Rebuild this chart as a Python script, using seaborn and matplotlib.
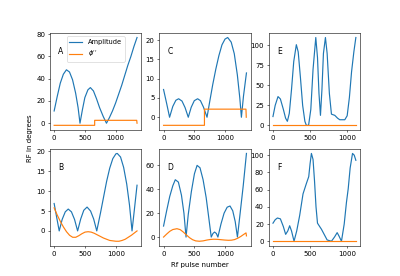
import matplotlib
matplotlib.use("Agg")
import matplotlib.pyplot as plt
import seaborn as sns

# Panel A
a_amp_x = [0, 50, 100, 150, 200, 250, 300, 350, 390, 421, 460, 500, 550, 590, 640, 690, 740, 800, 852, 900, 950, 1000, 1050, 1100, 1150, 1200, 1250, 1300, 1350]
a_amp_y = [11, 24, 36, 44, 48, 46, 39, 27, 14, 0, 12, 23, 30, 32, 29, 22, 14, 6, 0, 5, 11, 18, 26, 34, 43, 52, 60, 69, 77]
a_ph_x = [0, 660, 660, 1345, 1350]
a_ph_y = [-1.9, -1.9, 2.6, 2.6, 0]

# Panel B
b_amp_x = [0, 40, 82, 130, 180, 228, 280, 330, 380, 430, 480, 533, 590, 640, 690, 750, 800, 850, 900, 950, 1000, 1022, 1075, 1125, 1175, 1220, 1261, 1300, 1342]
b_amp_y = [6.9, 3.5, 0, 2.9, 4.8, 5.5, 4.8, 2.9, 0, 3.0, 5.2, 6.0, 5.0, 3.0, 0, 4.5, 8.5, 12.5, 15.8, 18.2, 19.4, 19.5, 18.6, 16.0, 11.8, 6.5, 0, 5.5, 11.5]
b_ph_x = [0, 50, 100, 150, 200, 250, 300, 350, 400, 450, 500, 550, 600, 650, 700, 750, 800, 850, 900, 950, 1000, 1050, 1100, 1150, 1200, 1250, 1300, 1342]
b_ph_y = [5.8, 4.0, 2.4, 1.0, -0.2, -1.1, -1.6, -1.6, -1.2, -0.7, -0.3, -0.2, -0.3, -0.6, -1.0, -1.4, -1.8, -2.1, -2.4, -2.5, -2.6, -2.6, -2.4, -2.1, -1.6, -1.1, -0.5, 0.0]

# Panel C
c_amp_x = [0, 50, 98, 150, 200, 245, 300, 350, 402, 450, 500, 554, 600, 650, 707, 750, 800, 850, 900, 950, 1000, 1043, 1100, 1150, 1200, 1240, 1266, 1300, 1348]
c_amp_y = [7.2, 3.6, 0, 2.8, 4.4, 4.8, 4.2, 2.5, 0, 2.6, 4.3, 4.8, 4.3, 2.6, 0, 4.0, 8.5, 12.5, 16.0, 18.8, 20.3, 20.7, 19.5, 16.5, 11.0, 5.0, 0, 5.5, 11.5]
c_ph_x = [0, 665, 665, 1340, 1345]
c_ph_y = [-2.1, -2.1, 2.1, 2.1, 0]

# Panel D
d_amp_x = [0, 50, 100, 150, 190, 240, 290, 330, 364, 400, 450, 500, 543, 590, 640, 690, 730, 772, 800, 826, 855, 880, 930, 980, 1030, 1076, 1120, 1160, 1196, 1240, 1290, 1342]
d_amp_y = [9.2, 22, 34, 43, 48, 46, 35, 20, 0, 19, 38, 53, 60, 58, 48, 33, 17, 0, 3, 4.2, 3, 0, 11, 20, 25, 26, 22, 13, 0, 20, 43, 70]
d_ph_x = [0, 50, 100, 150, 217, 270, 320, 370, 420, 470, 520, 580, 640, 700, 760, 815, 870, 930, 990, 1050, 1100, 1150, 1200, 1250, 1300, 1335, 1342]
d_ph_y = [0, 2.5, 4.8, 6.3, 7.0, 6.2, 4.2, 1.8, -0.5, -2.2, -3.2, -3.5, -3.2, -2.5, -2.0, -1.8, -1.9, -2.2, -2.5, -2.7, -2.6, -2.1, -1.0, 0.5, 2.3, 3.5, 1.0]

# Panel E
e_amp_x = [0, 30, 68, 100, 140, 170, 194, 220, 250, 280, 315, 340, 370, 400, 430, 450, 480, 510, 540, 577, 600, 620, 640, 660, 680, 707, 730, 760, 788, 833, 870, 900, 968, 1000, 1030, 1059, 1090, 1117]
e_amp_y = [11, 25, 36, 33, 20, 9, 5, 15, 45, 80, 101, 92, 60, 25, 5, 0, 0, 20, 70, 110, 85, 40, 12.5, 45, 90, 110, 90, 40, 14, 12.5, 9, 7, 7, 12, 35, 67, 92, 110]
e_ph_x = [0, 1117]
e_ph_y = [0, 0]

# Panel F
f_amp_x = [0, 30, 60, 100, 140, 171, 200, 225, 250, 284, 320, 360, 405, 450, 482, 500, 518, 540, 560, 580, 600, 630, 653, 690, 730, 788, 830, 865, 890, 923, 960, 990, 1014, 1040, 1072, 1095, 1117]
f_amp_y = [21, 25, 27, 26, 17, 8, 12, 18, 12, 0, 12, 30, 55, 67, 75, 90, 102, 95, 70, 40, 21, 17, 14, 8, 1.5, 0, 5, 10, 6, 0, 20, 45, 61, 85, 102, 100, 94]
f_ph_x = [0, 1117]
f_ph_y = [0, 0]

panels = [
    ("A", a_amp_x, a_amp_y, a_ph_x, a_ph_y),
    ("C", c_amp_x, c_amp_y, c_ph_x, c_ph_y),
    ("E", e_amp_x, e_amp_y, e_ph_x, e_ph_y),
    ("B", b_amp_x, b_amp_y, b_ph_x, b_ph_y),
    ("D", d_amp_x, d_amp_y, d_ph_x, d_ph_y),
    ("F", f_amp_x, f_amp_y, f_ph_x, f_ph_y),
]

fig, axes = plt.subplots(2, 3, figsize=(8, 5.52), dpi=50)
for ax, (name, ax_x, ax_y, px, py) in zip(axes.flat, panels):
    sns.lineplot(x=ax_x, y=ax_y, ax=ax, label="Amplitude", estimator=None, sort=False,
                 color="#1f77b4", linewidth=1.7)
    sns.lineplot(x=px, y=py, ax=ax, label=r"$\phi''$", estimator=None, sort=False,
                 color="#ff7f0e", linewidth=1.7)
    ax.text(0.12, 0.81, name, transform=ax.transAxes, ha="center", va="center", fontsize=11)
    if name == "A":
        ax.legend(loc="upper center", fontsize=9.5)
    else:
        ax.get_legend().remove()

fig.text(0.075, 0.5, "RF in degrees", rotation=90, ha="center", va="center", fontsize=10)
fig.text(0.5, 0.04, "Rf pulse number", ha="center", va="center", fontsize=10)
fig.savefig("out.png", dpi=50)
